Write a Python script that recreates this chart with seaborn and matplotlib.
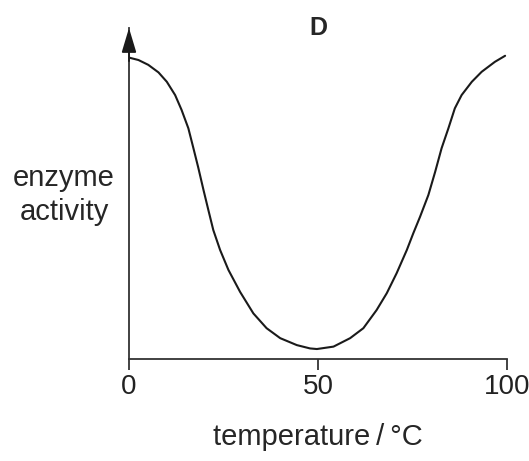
import matplotlib
matplotlib.use('Agg')
import matplotlib.pyplot as plt
import seaborn as sns
import pandas as pd

# Points (temperature in °C, activity in arbitrary units)
temperature = [0, 2.5, 5.1, 7.8, 10.0, 12.2, 13.9, 15.7, 17.0, 18.3, 19.7, 21.0,
               22.3, 24.1, 26.3, 29.4, 32.9, 36.4, 40.0, 44.4, 47.9, 49.7,
               54.1, 58.5, 62.0, 65.5, 68.2, 70.8, 73.5, 75.2, 77.0,
               79.2, 81.0, 82.7, 84.5, 86.2, 88.0, 90.7, 93.3, 96.8, 99.5]
activity = [99.8, 99.0, 97.4, 94.9, 91.8, 87.4, 82.5, 76.4, 70.0, 63.5, 56.0, 49.3,
            42.7, 36.1, 29.5, 22.2, 15.1, 10.2, 6.9, 4.6, 3.5, 3.3,
            4.1, 6.9, 10.2, 16.2, 21.8, 28.4, 36.1, 41.6, 47.1,
            54.3, 62.0, 69.8, 76.4, 83.0, 87.4, 91.8, 95.1, 98.4, 100.4]
xticks = [0, 50, 100]
xtick_labels = ['0', '50', '100']

df = pd.DataFrame({'temperature': temperature, 'activity': activity})

sns.set_style('white')
plt.rcParams['font.family'] = ['Liberation Sans', 'DejaVu Sans']

fig = plt.figure(figsize=(5.29, 4.61), dpi=100)
ax = fig.add_axes([129 / 529, 1 - 359 / 461, 378 / 529, 331 / 461])

sns.lineplot(data=df, x='temperature', y='activity', ax=ax, color='#1a1a1a', lw=1.5)

ax.set_xlim(0, 100)
ax.set_ylim(0, 109.6)
ax.set_xticks(xticks)
ax.set_xticklabels(xtick_labels, fontsize=20)
ax.set_yticks([])
ax.tick_params(axis='x', direction='out', length=8, width=1.2, pad=3, colors='#222222', bottom=True)

sns.despine(ax=ax)
for side in ['left', 'bottom']:
    ax.spines[side].set_color('#333333')
    ax.spines[side].set_linewidth(1.3)

# arrow head on the y axis
ax.annotate('', xy=(0, 1), xycoords='axes fraction', xytext=(0, 0.9),
            arrowprops=dict(arrowstyle='-|>,head_length=1.5,head_width=0.45',
                            color='#1a1a1a', lw=1.3, shrinkA=0, shrinkB=0))

ax.set_xlabel('temperature\u2009/\u2009°C', fontsize=21)
ax.xaxis.set_label_coords(0.5, -0.236)
ax.xaxis.label.set_va('center')
ax.set_ylabel('enzyme\nactivity', fontsize=21, rotation=0, ha='center', va='center',
              linespacing=1.25)
ax.yaxis.set_label_coords(-0.172, 0.495)

ax.text(0.5, 1.0, 'D', transform=ax.transAxes, ha='center', va='center',
        fontsize=18, fontweight='bold')

fig.savefig('out.png', dpi=100)
